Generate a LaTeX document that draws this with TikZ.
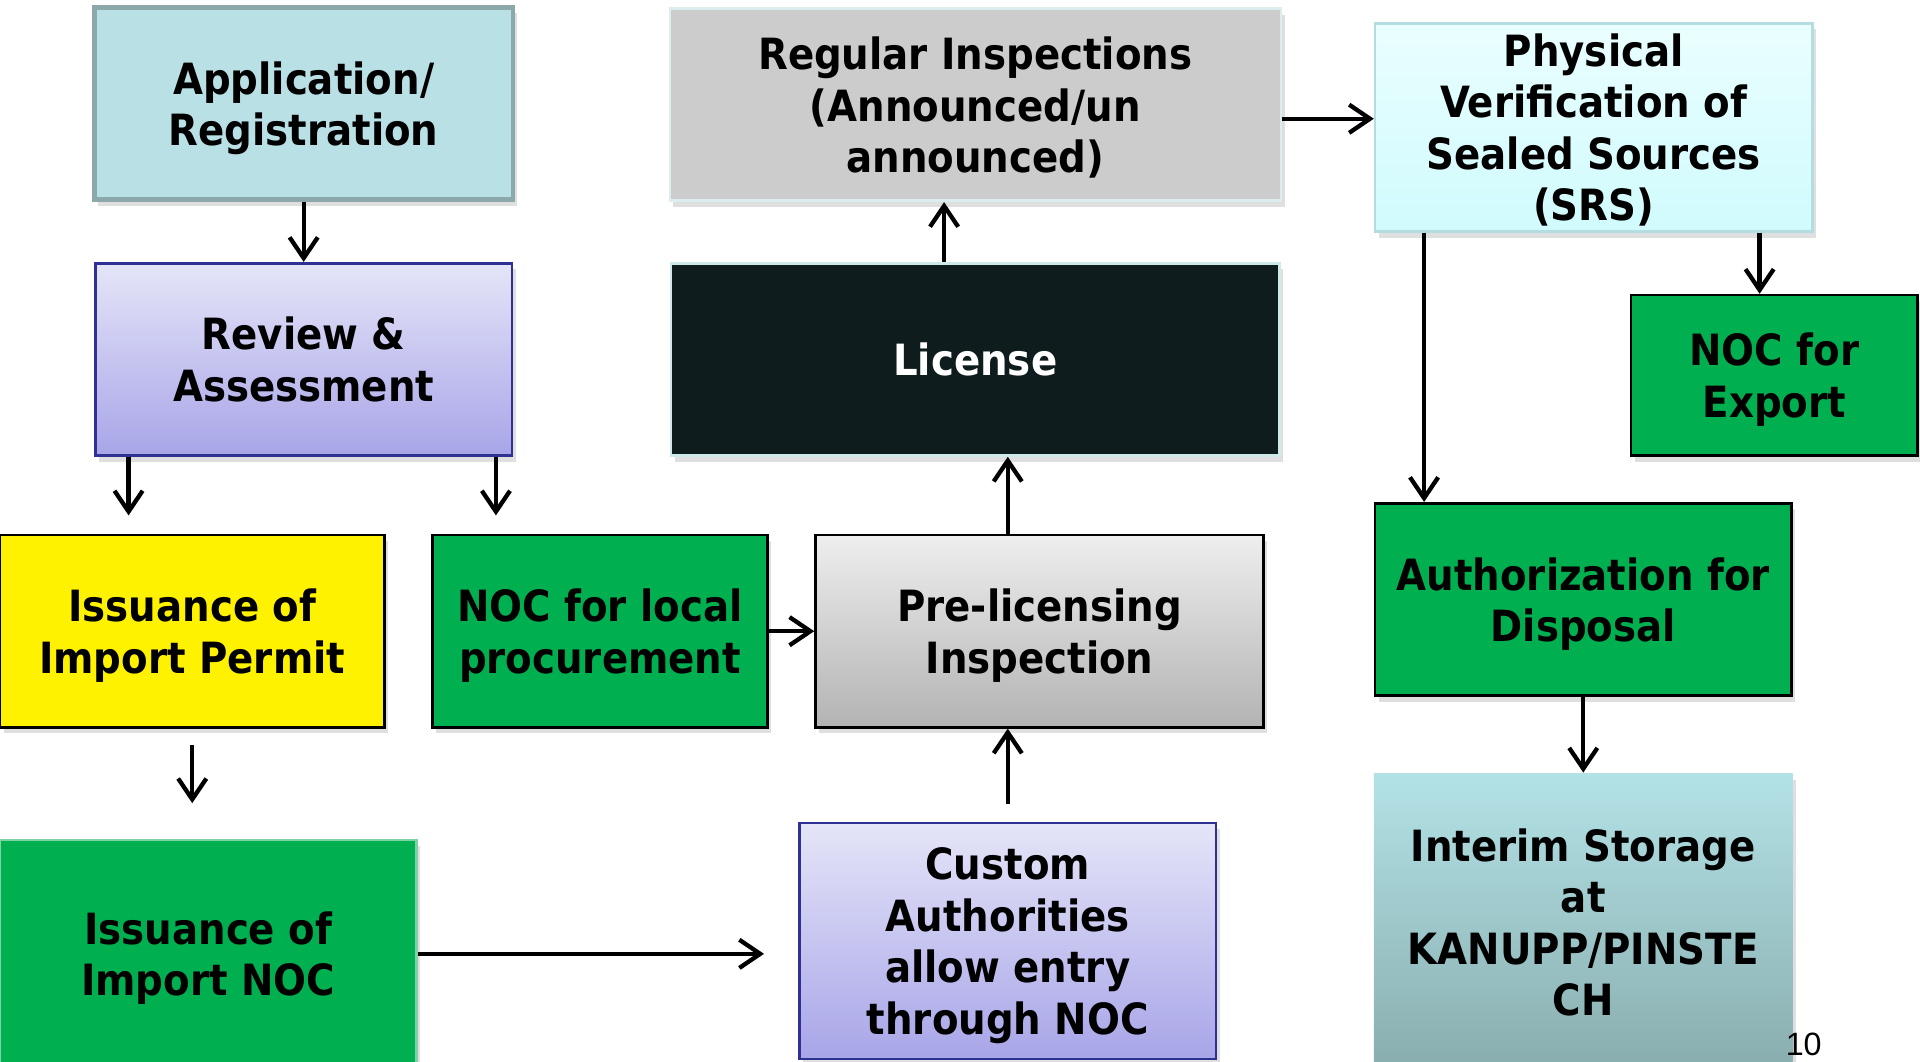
\documentclass[tikz,border=0pt]{standalone}
\usepackage{fontspec}
\newfontfamily\boxfont{DejaVuSansCondensed-Bold.ttf}
\newfontfamily\numfont{Liberation Sans}
\usetikzlibrary{arrows.meta}
\usetikzlibrary{calc,shapes,shadows}
\definecolor{appfill}{HTML}{B9E0E4}
\definecolor{appdraw}{HTML}{8BA8AA}
\definecolor{lavtop}{HTML}{E5E5F8}
\definecolor{lavbot}{HTML}{A8A5E8}
\definecolor{lavdraw}{HTML}{2E3092}
\definecolor{nocgreen}{HTML}{00AF50}
\definecolor{noclight}{HTML}{7FD3A3}
\definecolor{greytop}{HTML}{EEEEEE}
\definecolor{greybot}{HTML}{B3B3B3}
\definecolor{licfill}{HTML}{0F1C1D}
\definecolor{licdraw}{HTML}{CFE9EB}
\definecolor{regfill}{HTML}{CCCCCC}
\definecolor{regdraw}{HTML}{DCEDEE}
\definecolor{phytop}{HTML}{EAFEFF}
\definecolor{phybot}{HTML}{D0FBFD}
\definecolor{phydraw}{HTML}{B3DDE0}
\definecolor{stotop}{HTML}{B3E2E6}
\definecolor{stobot}{HTML}{89ADAE}

\tikzset{
	bloc/.style={rectangle, minimum width=3.4cm, minimum height=1.57cm, inner sep=0pt, align=center,
		line width=0.6pt, font=\boxfont\fontsize{10}{11.95}\selectfont, text depth=0pt,
		drop shadow={shadow xshift=0.3mm, shadow yshift=-0.5mm, opacity=0.25}},
	fleche/.style={line width=1pt},
}

\begin{document}
\begin{tikzpicture}[>={Straight Barb[length=1.7mm,width=2.3mm]}]
				\clip (0,0) rectangle (15.68,8.67);
				% Blocs
				\node [bloc, draw=appdraw, line width=1.1pt, fill=appfill, minimum width=3.42cm] (app) at (2.48,7.825) {Application/\\Registration};
				\node [bloc, draw=lavdraw, top color=lavtop, bottom color=lavbot] (review) at (2.48,5.735) {Review \&\\Assessment};
				\node [bloc, draw=black, fill=yellow, minimum width=3.14cm] (permit) at (1.57,3.515) {Issuance of\\Import Permit};
				\node [bloc, draw=black, fill=nocgreen, minimum width=2.74cm] (local) at (4.90,3.515) {NOC for local\\procurement};
				\node [bloc, draw=black, top color=greytop, bottom color=greybot, minimum width=3.66cm] (prelic) at (8.49,3.515) {Pre-licensing\\Inspection};
				\node [bloc, draw=licdraw, fill=licfill, text=white, minimum width=4.97cm] (license) at (7.965,5.735) {License};
				\node [bloc, draw=regdraw, fill=regfill, minimum width=4.99cm] (regular) at (7.965,7.815) {Regular Inspections\\(Announced/un\\announced)};
				\node [bloc, draw=phydraw, top color=phytop, bottom color=phybot, minimum width=3.57cm, minimum height=1.70cm] (physical) at (13.015,7.63) {Physical\\Verification of\\Sealed Sources\\(SRS)};
				\node [bloc, draw=black, fill=nocgreen, minimum width=2.34cm, minimum height=1.31cm] (export) at (14.49,5.605) {NOC for\\Export};
				\node [bloc, draw=black, fill=nocgreen] (disposal) at (12.93,3.775) {Authorization for\\Disposal};
				\node [bloc, top color=stotop, bottom color=stobot, minimum width=3.42cm, minimum height=2.42cm] (interim) at (12.93,1.14) {Interim Storage\\at\\KANUPP/PINSTE\\CH};
				\node [bloc, draw=noclight, fill=nocgreen, minimum height=1.86cm] (importnoc) at (1.70,0.88) {Issuance of\\Import NOC};
				\node [bloc, draw=lavdraw, top color=lavtop, bottom color=lavbot, minimum height=1.93cm] (custom) at (8.23,0.985) {Custom\\Authorities\\allow entry\\through NOC};
				\node [font=\numfont\fontsize{7.5}{8}\selectfont] (page) at (14.73,0.14) {10};
				% Liaisons
				\draw [->,fleche] (app) -- (review);
				\draw [->,fleche,shorten >=1.5mm] ([xshift=-1.43cm]review.south) -- ([xshift=-1.43cm]review.south |- permit.north);
				\draw [->,fleche,shorten >=1.5mm] ([xshift=1.57cm]review.south) -- ([xshift=1.57cm]review.south |- local.north);
				\draw [->,fleche,shorten <=1.3mm,shorten >=2.9mm] (permit.south) -- (permit.south |- importnoc.north);
				\draw [->,fleche] (local) -- (prelic);
				\draw [->,fleche] ([xshift=-2.6mm]prelic.north) -- ([xshift=-2.6mm]prelic.north |- license.south);
				\draw [->,fleche] ([xshift=-2.55mm]license.north) -- ([xshift=-2.55mm]license.north |- regular.south);
				\draw [->,fleche] ([yshift=-1.15mm]regular.east) -- ([yshift=-1.15mm]regular.east -| physical.west);
				\draw [->,fleche] ([xshift=-13.85mm]physical.south) -- ([xshift=-13.85mm]physical.south |- disposal.north);
				\draw [->,fleche] ([xshift=13.55mm]physical.south) -- ([xshift=13.55mm]physical.south |- export.north);
				\draw [->,fleche] (disposal) -- (interim);
				\draw [->,fleche,shorten <=1.4mm] (custom.north) -- (custom.north |- prelic.south);
				\draw [->,fleche,shorten >=2.8mm] (importnoc.east) -- (importnoc.east -| custom.west);
\end{tikzpicture}
\end{document}
